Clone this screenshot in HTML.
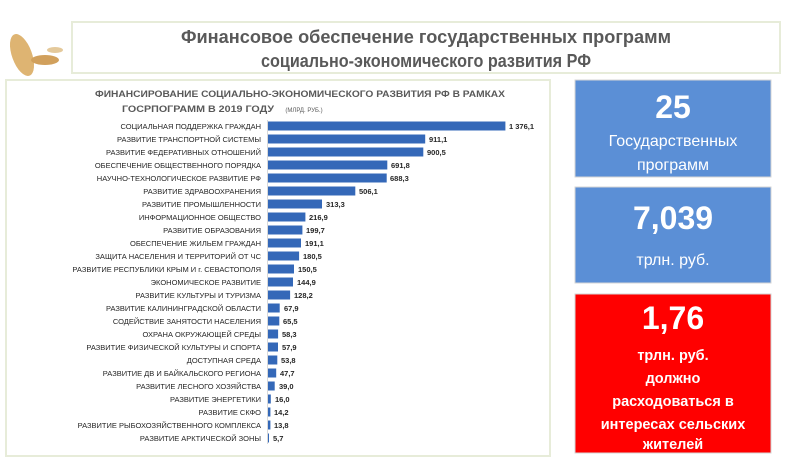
<!DOCTYPE html>
<html><head><meta charset="utf-8"><style>
body{margin:0;width:810px;height:468px;background:#fff;overflow:hidden;font-family:"Liberation Sans",sans-serif}
</style></head><body>
<svg width="810" height="468" xmlns="http://www.w3.org/2000/svg" font-family="Liberation Sans, sans-serif">
<g fill="#d9a85a" opacity="0.85"><ellipse cx="22" cy="55" rx="10" ry="22" transform="rotate(-20 22 55)"/><ellipse cx="45" cy="60" rx="14" ry="5" fill="#c99040"/><ellipse cx="55" cy="50" rx="8" ry="3" fill="#e0c08a"/></g>
<rect x="72" y="22" width="708" height="51" fill="#fff" stroke="#e7ecd9" stroke-width="2"/>
<text x="426" y="43" text-anchor="middle" font-size="18" font-weight="bold" fill="#595959" textLength="490" lengthAdjust="spacingAndGlyphs">Финансовое обеспечение государственных программ</text>
<text x="426" y="67" text-anchor="middle" font-size="18" font-weight="bold" fill="#595959" textLength="330" lengthAdjust="spacingAndGlyphs">социально-экономического развития РФ</text>
<rect x="6" y="80" width="544" height="376" fill="#fff" stroke="#e7ecd9" stroke-width="2"/>
<text x="300" y="97" text-anchor="middle" font-size="9" font-weight="bold" fill="#595959" textLength="410" lengthAdjust="spacingAndGlyphs">ФИНАНСИРОВАНИЕ СОЦИАЛЬНО-ЭКОНОМИЧЕСКОГО РАЗВИТИЯ РФ В РАМКАХ</text>
<text x="198" y="112" text-anchor="middle" font-size="9" font-weight="bold" fill="#595959" textLength="152" lengthAdjust="spacingAndGlyphs">ГОСРПОГРАММ В 2019 ГОДУ</text>
<text x="304" y="112" text-anchor="middle" font-size="6" fill="#595959">(МЛРД. РУБ.)</text>
<rect x="267" y="120" width="1" height="324" fill="#d9d9d9"/>
<rect x="575" y="80" width="196" height="97" fill="#5b8fd6" stroke="#d6d6d6"/>
<text x="673" y="118" text-anchor="middle" font-size="32" font-weight="bold" fill="#fff">25</text>
<text x="673" y="146" text-anchor="middle" font-size="16" fill="#fff">Государственных</text>
<text x="673" y="170" text-anchor="middle" font-size="16" fill="#fff">программ</text>
<rect x="575" y="187" width="196" height="96" fill="#5b8fd6" stroke="#d6d6d6"/>
<text x="673" y="229" text-anchor="middle" font-size="32" font-weight="bold" fill="#fff">7,039</text>
<text x="673" y="265" text-anchor="middle" font-size="16" fill="#fff">трлн. руб.</text>
<rect x="575" y="294" width="196" height="159" fill="#ff0000" stroke="#d6d6d6"/>
<text x="673" y="329" text-anchor="middle" font-size="32" font-weight="bold" fill="#fff">1,76</text>
<g font-size="14.5" font-weight="bold" fill="#fff" text-anchor="middle">
<text x="673" y="360">трлн. руб.</text>
<text x="673" y="383">должно</text>
<text x="673" y="406">расходоваться в</text>
<text x="673" y="429">интересах сельских</text>
<text x="673" y="449">жителей</text>
</g>
<g fill="#3468b8">
<rect x="268" y="121.5" width="237.4" height="9"/>
<rect x="268" y="134.5" width="157.2" height="9"/>
<rect x="268" y="147.5" width="155.3" height="9"/>
<rect x="268" y="160.5" width="119.3" height="9"/>
<rect x="268" y="173.5" width="118.7" height="9"/>
<rect x="268" y="186.5" width="87.3" height="9"/>
<rect x="268" y="199.5" width="54.0" height="9"/>
<rect x="268" y="212.5" width="37.4" height="9"/>
<rect x="268" y="225.5" width="34.4" height="9"/>
<rect x="268" y="238.5" width="33.0" height="9"/>
<rect x="268" y="251.5" width="31.1" height="9"/>
<rect x="268" y="264.5" width="26.0" height="9"/>
<rect x="268" y="277.5" width="25.0" height="9"/>
<rect x="268" y="290.5" width="22.1" height="9"/>
<rect x="268" y="303.5" width="11.7" height="9"/>
<rect x="268" y="316.5" width="11.3" height="9"/>
<rect x="268" y="329.5" width="10.1" height="9"/>
<rect x="268" y="342.5" width="10.0" height="9"/>
<rect x="268" y="355.5" width="9.3" height="9"/>
<rect x="268" y="368.5" width="8.2" height="9"/>
<rect x="268" y="381.5" width="6.7" height="9"/>
<rect x="268" y="394.5" width="2.8" height="9"/>
<rect x="268" y="407.5" width="2.4" height="9"/>
<rect x="268" y="420.5" width="2.4" height="9"/>
<rect x="268" y="433.5" width="1.0" height="9"/>
</g>
<g font-size="7.5" fill="#262626" text-anchor="end">
<text x="261" y="129">СОЦИАЛЬНАЯ ПОДДЕРЖКА ГРАЖДАН</text>
<text x="261" y="142">РАЗВИТИЕ ТРАНСПОРТНОЙ СИСТЕМЫ</text>
<text x="261" y="155">РАЗВИТИЕ ФЕДЕРАТИВНЫХ ОТНОШЕНИЙ</text>
<text x="261" y="168">ОБЕСПЕЧЕНИЕ ОБЩЕСТВЕННОГО ПОРЯДКА</text>
<text x="261" y="181">НАУЧНО-ТЕХНОЛОГИЧЕСКОЕ РАЗВИТИЕ РФ</text>
<text x="261" y="194">РАЗВИТИЕ ЗДРАВООХРАНЕНИЯ</text>
<text x="261" y="207">РАЗВИТИЕ ПРОМЫШЛЕННОСТИ</text>
<text x="261" y="220">ИНФОРМАЦИОННОЕ ОБЩЕСТВО</text>
<text x="261" y="233">РАЗВИТИЕ ОБРАЗОВАНИЯ</text>
<text x="261" y="246">ОБЕСПЕЧЕНИЕ ЖИЛЬЕМ ГРАЖДАН</text>
<text x="261" y="259">ЗАЩИТА НАСЕЛЕНИЯ И ТЕРРИТОРИЙ ОТ ЧС</text>
<text x="261" y="272">РАЗВИТИЕ РЕСПУБЛИКИ КРЫМ И г. СЕВАСТОПОЛЯ</text>
<text x="261" y="285">ЭКОНОМИЧЕСКОЕ РАЗВИТИЕ</text>
<text x="261" y="298">РАЗВИТИЕ КУЛЬТУРЫ И ТУРИЗМА</text>
<text x="261" y="311">РАЗВИТИЕ КАЛИНИНГРАДСКОЙ ОБЛАСТИ</text>
<text x="261" y="324">СОДЕЙСТВИЕ ЗАНЯТОСТИ НАСЕЛЕНИЯ</text>
<text x="261" y="337">ОХРАНА ОКРУЖАЮЩЕЙ СРЕДЫ</text>
<text x="261" y="350">РАЗВИТИЕ ФИЗИЧЕСКОЙ КУЛЬТУРЫ И СПОРТА</text>
<text x="261" y="363">ДОСТУПНАЯ СРЕДА</text>
<text x="261" y="376">РАЗВИТИЕ ДВ И БАЙКАЛЬСКОГО РЕГИОНА</text>
<text x="261" y="389">РАЗВИТИЕ ЛЕСНОГО ХОЗЯЙСТВА</text>
<text x="261" y="402">РАЗВИТИЕ ЭНЕРГЕТИКИ</text>
<text x="261" y="415">РАЗВИТИЕ СКФО</text>
<text x="261" y="428">РАЗВИТИЕ РЫБОХОЗЯЙСТВЕННОГО КОМПЛЕКСА</text>
<text x="261" y="441">РАЗВИТИЕ АРКТИЧЕСКОЙ ЗОНЫ</text>
</g>
<g font-size="7.5" font-weight="bold" fill="#262626">
<text x="509" y="129">1 376,1</text>
<text x="429" y="142">911,1</text>
<text x="427" y="155">900,5</text>
<text x="391" y="168">691,8</text>
<text x="390" y="181">688,3</text>
<text x="359" y="194">506,1</text>
<text x="326" y="207">313,3</text>
<text x="309" y="220">216,9</text>
<text x="306" y="233">199,7</text>
<text x="305" y="246">191,1</text>
<text x="303" y="259">180,5</text>
<text x="298" y="272">150,5</text>
<text x="297" y="285">144,9</text>
<text x="294" y="298">128,2</text>
<text x="284" y="311">67,9</text>
<text x="283" y="324">65,5</text>
<text x="282" y="337">58,3</text>
<text x="282" y="350">57,9</text>
<text x="281" y="363">53,8</text>
<text x="280" y="376">47,7</text>
<text x="279" y="389">39,0</text>
<text x="275" y="402">16,0</text>
<text x="274" y="415">14,2</text>
<text x="274" y="428">13,8</text>
<text x="273" y="441">5,7</text>
</g>
</svg>
</body></html>
